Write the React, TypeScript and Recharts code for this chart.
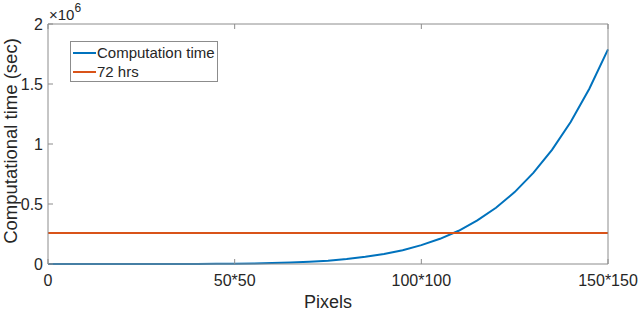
import { Line, LineChart, XAxis, YAxis } from 'recharts'

// grid size n (image is n*n pixels)
const sizes = [
  0, 5, 10, 15, 20, 25, 30, 35, 40, 45, 50, 55, 60, 65, 70, 75, 80, 85, 90, 95, 100, 105, 110, 115,
  120, 125, 130, 135, 140, 145, 150,
]
// computation time in seconds
const compTime = [
  0, 0, 0, 0, 10, 40, 100, 250, 640, 1300, 2450, 4400, 7300, 11800, 18500, 28000, 41300, 59500,
  83500, 115000, 157000, 210000, 277000, 363000, 469000, 599000, 759000, 951000, 1183000, 1460000,
  1789000,
]
const limitSec = 72 * 3600

const xTicks = [0, 50, 100, 150]
const xTickLabels = ['0', '50*50', '100*100', '150*150']
const yTicks = [0, 500000, 1000000, 1500000, 2000000]

const BLUE = '#0072bd'
const ORANGE = '#d95319'
const AXIS = '#8c8c8c'
const TEXT = '#262626'
const FONT = '"Liberation Sans", Arial, Helvetica, sans-serif'

const data = sizes.map((n, i) => ({ n, time: compTime[i], limit: limitSec }))

function LegendBox() {
  const rows = [
    { label: 'Computation time', color: BLUE },
    { label: '72 hrs', color: ORANGE },
  ]
  return (
    <div
      style={{
        position: 'absolute',
        left: 70,
        top: 41,
        boxSizing: 'border-box',
        border: `1px solid ${AXIS}`,
        background: '#fff',
        width: 148,
        height: 41,
        padding: '1px 0 0 2px',
        fontFamily: FONT,
        fontSize: 15,
        color: TEXT,
        lineHeight: '19px',
      }}
    >
      {rows.map((r) => (
        <div key={r.label} style={{ display: 'flex', alignItems: 'center' }}>
          <span style={{ display: 'inline-block', width: 23, height: 2, background: r.color }} />
          <span style={{ marginLeft: 1 }}>{r.label}</span>
        </div>
      ))}
    </div>
  )
}

export default function App() {
  return (
    <div style={{ position: 'absolute', left: 0, top: 0, width: 640, height: 312, background: '#fff' }}>
      <LineChart
        width={640}
        height={312}
        data={data}
        margin={{ top: 0, right: 0, bottom: 0, left: 0 }}
        style={{ fontFamily: FONT }}
      >
        <XAxis
          xAxisId="bottom"
          dataKey="n"
          type="number"
          domain={[0, 150]}
          ticks={xTicks}
          tickFormatter={(v: number) => xTickLabels[xTicks.indexOf(v)] ?? ''}
          orientation="bottom"
          height={48}
          stroke={AXIS}
          tickSize={-5}
          tickMargin={16}
          tick={{ fill: TEXT, fontSize: 16 }}
          label={{ value: 'Pixels', position: 'insideBottom', offset: 4, fill: TEXT, fontSize: 18 }}
        />
        <XAxis
          xAxisId="top"
          dataKey="n"
          type="number"
          domain={[0, 150]}
          ticks={xTicks}
          tickFormatter={() => ''}
          orientation="top"
          height={24}
          stroke={AXIS}
          tickSize={-5}
        />
        <YAxis
          yAxisId="left"
          type="number"
          domain={[0, 2000000]}
          ticks={yTicks}
          tickFormatter={(v: number) => String(v / 1e6)}
          orientation="left"
          width={48}
          stroke={AXIS}
          tickSize={-5}
          tickMargin={10}
          tick={{ fill: TEXT, fontSize: 16 }}
        />
        <YAxis
          yAxisId="right"
          type="number"
          domain={[0, 2000000]}
          ticks={yTicks}
          tickFormatter={() => ''}
          orientation="right"
          width={32}
          stroke={AXIS}
          tickSize={-5}
        />
        <Line
          xAxisId="bottom"
          yAxisId="left"
          dataKey="time"
          name="Computation time"
          type="linear"
          stroke={BLUE}
          strokeWidth={2}
          dot={false}
          isAnimationActive={false}
        />
        <Line
          xAxisId="bottom"
          yAxisId="left"
          dataKey="limit"
          name="72 hrs"
          type="linear"
          stroke={ORANGE}
          strokeWidth={2}
          dot={false}
          isAnimationActive={false}
        />
        <text
          x={17}
          y={141}
          transform="rotate(-90, 17, 141)"
          textAnchor="middle"
          fill={TEXT}
          fontSize={18.5}
          fontFamily={FONT}
        >
          Computational time (sec)
        </text>
        <text x={49} y={20} fill={TEXT} fontSize={15} fontFamily={FONT}>
          ×10
          <tspan dy={-8} fontSize={12}>
            6
          </tspan>
        </text>
      </LineChart>
      <LegendBox />
    </div>
  )
}
